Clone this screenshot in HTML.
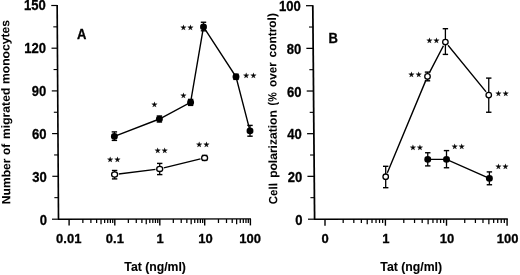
<!DOCTYPE html>
<html><head><meta charset="utf-8"><title>Figure</title>
<style>
html,body{margin:0;padding:0;background:#fff;}
body{width:520px;height:275px;overflow:hidden;}
svg{display:block;}
svg text{fill:#000;stroke:#000;stroke-width:0.3px;}
svg text.vl{stroke-width:0.05px;}
svg text.tl{stroke-width:0.12px;}
svg text.st{stroke-width:0.25px;}
svg line, svg polyline{stroke:#000;}
</style></head><body>
<svg width="520" height="275" viewBox="0 0 520 275" font-family="Liberation Sans, sans-serif" font-weight="bold">
<defs><filter id="soft" x="-2%" y="-2%" width="104%" height="104%"><feGaussianBlur stdDeviation="0.3"/></filter></defs>
<rect x="0" y="0" width="520" height="275" fill="#fff"/>
<g filter="url(#soft)">
<line x1="57.15" y1="5.00" x2="58.50" y2="219.20" stroke-width="1.65"/>
<line x1="52.00" y1="219.20" x2="58.50" y2="219.20" stroke-width="1.2"/>
<line x1="58.00" y1="219.15" x2="251.00" y2="218.85" stroke-width="1.45"/>
<text class="" transform="translate(47.1,224.70000000000002) scale(0.925,1)" text-anchor="end" font-size="14.1">0</text>
<line x1="54.37" y1="197.65" x2="58.37" y2="197.65" stroke-width="1.1"/>
<line x1="52.33" y1="176.30" x2="58.23" y2="176.30" stroke-width="1.2"/>
<text class="" transform="translate(46.8306308411215,181.84) scale(0.925,1)" text-anchor="end" font-size="14.1">30</text>
<line x1="54.10" y1="154.95" x2="58.10" y2="154.95" stroke-width="1.1"/>
<line x1="52.06" y1="133.60" x2="57.96" y2="133.60" stroke-width="1.2"/>
<text class="" transform="translate(46.56126168224299,138.98) scale(0.925,1)" text-anchor="end" font-size="14.1">60</text>
<line x1="53.83" y1="112.25" x2="57.83" y2="112.25" stroke-width="1.1"/>
<line x1="51.79" y1="90.90" x2="57.69" y2="90.90" stroke-width="1.2"/>
<text class="" transform="translate(46.29189252336449,96.12) scale(0.925,1)" text-anchor="end" font-size="14.1">90</text>
<line x1="53.56" y1="69.55" x2="57.56" y2="69.55" stroke-width="1.1"/>
<line x1="51.52" y1="48.20" x2="57.42" y2="48.20" stroke-width="1.2"/>
<text class="" transform="translate(46.022523364485984,53.259999999999984) scale(0.925,1)" text-anchor="end" font-size="14.1">120</text>
<line x1="53.29" y1="26.85" x2="57.29" y2="26.85" stroke-width="1.1"/>
<line x1="51.25" y1="5.50" x2="57.15" y2="5.50" stroke-width="1.2"/>
<text class="" transform="translate(45.75315420560748,10.4) scale(0.925,1)" text-anchor="end" font-size="14.1">150</text>
<line x1="69.10" y1="219.00" x2="69.10" y2="225.40" stroke-width="1.4"/>
<line x1="82.86" y1="219.00" x2="82.86" y2="223.00" stroke-width="1.25"/>
<line x1="90.90" y1="219.00" x2="90.90" y2="223.00" stroke-width="1.25"/>
<line x1="96.61" y1="219.00" x2="96.61" y2="223.00" stroke-width="1.25"/>
<line x1="101.04" y1="219.00" x2="101.04" y2="224.20" stroke-width="1.25"/>
<line x1="104.66" y1="219.00" x2="104.66" y2="223.00" stroke-width="1.25"/>
<line x1="107.72" y1="219.00" x2="107.72" y2="223.00" stroke-width="1.25"/>
<line x1="110.37" y1="219.00" x2="110.37" y2="223.00" stroke-width="1.25"/>
<line x1="112.71" y1="219.00" x2="112.71" y2="223.00" stroke-width="1.25"/>
<line x1="114.80" y1="219.00" x2="114.80" y2="225.40" stroke-width="1.4"/>
<line x1="128.35" y1="219.00" x2="128.35" y2="223.00" stroke-width="1.25"/>
<line x1="136.27" y1="219.00" x2="136.27" y2="223.00" stroke-width="1.25"/>
<line x1="141.89" y1="219.00" x2="141.89" y2="223.00" stroke-width="1.25"/>
<line x1="146.25" y1="219.00" x2="146.25" y2="224.20" stroke-width="1.25"/>
<line x1="149.82" y1="219.00" x2="149.82" y2="223.00" stroke-width="1.25"/>
<line x1="152.83" y1="219.00" x2="152.83" y2="223.00" stroke-width="1.25"/>
<line x1="155.44" y1="219.00" x2="155.44" y2="223.00" stroke-width="1.25"/>
<line x1="157.74" y1="219.00" x2="157.74" y2="223.00" stroke-width="1.25"/>
<line x1="159.80" y1="219.00" x2="159.80" y2="225.40" stroke-width="1.4"/>
<line x1="173.32" y1="219.00" x2="173.32" y2="223.00" stroke-width="1.25"/>
<line x1="181.22" y1="219.00" x2="181.22" y2="223.00" stroke-width="1.25"/>
<line x1="186.83" y1="219.00" x2="186.83" y2="223.00" stroke-width="1.25"/>
<line x1="191.18" y1="219.00" x2="191.18" y2="224.20" stroke-width="1.25"/>
<line x1="194.74" y1="219.00" x2="194.74" y2="223.00" stroke-width="1.25"/>
<line x1="197.74" y1="219.00" x2="197.74" y2="223.00" stroke-width="1.25"/>
<line x1="200.35" y1="219.00" x2="200.35" y2="223.00" stroke-width="1.25"/>
<line x1="202.65" y1="219.00" x2="202.65" y2="223.00" stroke-width="1.25"/>
<line x1="204.70" y1="219.00" x2="204.70" y2="225.40" stroke-width="1.4"/>
<line x1="218.46" y1="219.00" x2="218.46" y2="223.00" stroke-width="1.25"/>
<line x1="226.50" y1="219.00" x2="226.50" y2="223.00" stroke-width="1.25"/>
<line x1="232.21" y1="219.00" x2="232.21" y2="223.00" stroke-width="1.25"/>
<line x1="236.64" y1="219.00" x2="236.64" y2="224.20" stroke-width="1.25"/>
<line x1="240.26" y1="219.00" x2="240.26" y2="223.00" stroke-width="1.25"/>
<line x1="243.32" y1="219.00" x2="243.32" y2="223.00" stroke-width="1.25"/>
<line x1="245.97" y1="219.00" x2="245.97" y2="223.00" stroke-width="1.25"/>
<line x1="248.31" y1="219.00" x2="248.31" y2="223.00" stroke-width="1.25"/>
<line x1="250.40" y1="219.00" x2="250.40" y2="225.40" stroke-width="1.4"/>
<text class="" transform="translate(68.75,242.5) scale(0.95,1)" text-anchor="middle" font-size="13.7">0.01</text>
<text class="" transform="translate(114.9,242.5) scale(0.95,1)" text-anchor="middle" font-size="13.7">0.1</text>
<text class="" transform="translate(160.0,242.5) scale(0.95,1)" text-anchor="middle" font-size="13.7">1</text>
<text class="" transform="translate(205.6,242.5) scale(0.95,1)" text-anchor="middle" font-size="13.7">10</text>
<text class="" transform="translate(250.1,242.5) scale(0.95,1)" text-anchor="middle" font-size="13.7">100</text>
<text class="tl" transform="translate(155.1,270.7) scale(1.02,1)" text-anchor="middle" font-size="12.0">Tat (ng/ml)</text>
<text class="vl" transform="translate(10.35,204.24) rotate(-90.3)" text-anchor="start" font-size="11.9" textLength="45.76" lengthAdjust="spacingAndGlyphs">Number</text>
<text class="vl" transform="translate(10.03,154.98) rotate(-90.3)" text-anchor="start" font-size="11.9" textLength="11.18" lengthAdjust="spacingAndGlyphs">of</text>
<text class="vl" transform="translate(9.93,139.00) rotate(-90.3)" text-anchor="start" font-size="11.9" textLength="51.31" lengthAdjust="spacingAndGlyphs">migrated</text>
<text class="vl" transform="translate(9.57,84.09) rotate(-90.3)" text-anchor="start" font-size="11.9" textLength="64.22" lengthAdjust="spacingAndGlyphs">monocytes</text>
<text class="" transform="translate(81.7,39.2) scale(0.93,1)" text-anchor="middle" font-size="14">A</text>
<polyline fill="none" stroke-width="1.4" points="114.4,136.4 159.4,119.0 190.6,102.4 203.5,26.9 236.0,76.8 250.0,130.9"/>
<line x1="114.40" y1="131.90" x2="114.40" y2="140.40" stroke-width="1.3"/>
<line x1="111.70" y1="131.90" x2="117.10" y2="131.90" stroke-width="1.4"/>
<line x1="111.70" y1="140.40" x2="117.10" y2="140.40" stroke-width="1.4"/>
<ellipse cx="114.4" cy="136.4" rx="3.45" ry="3.3" fill="#000" stroke="none"/>
<line x1="159.40" y1="116.00" x2="159.40" y2="122.00" stroke-width="1.3"/>
<line x1="156.70" y1="116.00" x2="162.10" y2="116.00" stroke-width="1.4"/>
<line x1="156.70" y1="122.00" x2="162.10" y2="122.00" stroke-width="1.4"/>
<ellipse cx="159.4" cy="119.0" rx="3.45" ry="3.3" fill="#000" stroke="none"/>
<line x1="190.60" y1="99.40" x2="190.60" y2="105.40" stroke-width="1.3"/>
<line x1="187.90" y1="99.40" x2="193.30" y2="99.40" stroke-width="1.4"/>
<line x1="187.90" y1="105.40" x2="193.30" y2="105.40" stroke-width="1.4"/>
<ellipse cx="190.6" cy="102.4" rx="3.45" ry="3.3" fill="#000" stroke="none"/>
<line x1="203.50" y1="22.25" x2="203.50" y2="30.80" stroke-width="1.3"/>
<line x1="200.80" y1="22.25" x2="206.20" y2="22.25" stroke-width="1.4"/>
<line x1="200.80" y1="30.80" x2="206.20" y2="30.80" stroke-width="1.4"/>
<ellipse cx="203.5" cy="26.9" rx="3.45" ry="3.3" fill="#000" stroke="none"/>
<line x1="236.00" y1="74.20" x2="236.00" y2="79.40" stroke-width="1.3"/>
<line x1="233.30" y1="74.20" x2="238.70" y2="74.20" stroke-width="1.4"/>
<line x1="233.30" y1="79.40" x2="238.70" y2="79.40" stroke-width="1.4"/>
<ellipse cx="236.0" cy="76.8" rx="3.45" ry="3.3" fill="#000" stroke="none"/>
<line x1="250.00" y1="125.40" x2="250.00" y2="136.20" stroke-width="1.3"/>
<line x1="247.30" y1="125.40" x2="252.70" y2="125.40" stroke-width="1.4"/>
<line x1="247.30" y1="136.20" x2="252.70" y2="136.20" stroke-width="1.4"/>
<ellipse cx="250.0" cy="130.9" rx="3.45" ry="3.3" fill="#000" stroke="none"/>
<polyline fill="none" stroke-width="1.4" points="114.6,174.5 159.7,168.9 204.6,157.9"/>
<circle cx="114.6" cy="174.5" r="4.3" fill="#fff" stroke="none"/>
<line x1="114.60" y1="170.50" x2="114.60" y2="178.90" stroke-width="1.3"/>
<line x1="111.90" y1="170.50" x2="117.30" y2="170.50" stroke-width="1.4"/>
<line x1="111.90" y1="178.90" x2="117.30" y2="178.90" stroke-width="1.4"/>
<ellipse cx="114.6" cy="174.5" rx="3.0" ry="2.6" fill="#fff" stroke="#000" stroke-width="1.3"/>
<circle cx="159.7" cy="168.9" r="4.3" fill="#fff" stroke="none"/>
<line x1="159.70" y1="163.40" x2="159.70" y2="174.60" stroke-width="1.3"/>
<line x1="157.00" y1="163.40" x2="162.40" y2="163.40" stroke-width="1.4"/>
<line x1="157.00" y1="174.60" x2="162.40" y2="174.60" stroke-width="1.4"/>
<ellipse cx="159.7" cy="168.9" rx="3.0" ry="2.6" fill="#fff" stroke="#000" stroke-width="1.3"/>
<circle cx="204.6" cy="157.9" r="4.3" fill="#fff" stroke="none"/>
<line x1="204.60" y1="155.40" x2="204.60" y2="160.40" stroke-width="1.3"/>
<line x1="201.90" y1="155.40" x2="207.30" y2="155.40" stroke-width="1.4"/>
<line x1="201.90" y1="160.40" x2="207.30" y2="160.40" stroke-width="1.4"/>
<ellipse cx="204.6" cy="157.9" rx="3.0" ry="2.6" fill="#fff" stroke="#000" stroke-width="1.3"/>
<text class="st" font-family="DejaVu Sans, sans-serif" font-weight="normal" font-size="7.1" x="151.24" y="106.96">★</text>
<text class="st" font-family="DejaVu Sans, sans-serif" font-weight="normal" font-size="7.1" x="180.24" y="97.81">★</text>
<text class="st" font-family="DejaVu Sans, sans-serif" font-weight="normal" font-size="7.1" x="180.24 187.34" y="30.31">★★</text>
<text class="st" font-family="DejaVu Sans, sans-serif" font-weight="normal" font-size="7.1" x="243.09 250.19" y="77.56">★★</text>
<text class="st" font-family="DejaVu Sans, sans-serif" font-weight="normal" font-size="7.1" x="107.09 114.19" y="162.31">★★</text>
<text class="st" font-family="DejaVu Sans, sans-serif" font-weight="normal" font-size="7.1" x="154.44 161.54" y="152.86">★★</text>
<text class="st" font-family="DejaVu Sans, sans-serif" font-weight="normal" font-size="7.1" x="196.04 203.14" y="147.46">★★</text>
<line x1="312.80" y1="5.20" x2="314.60" y2="219.20" stroke-width="1.75"/>
<line x1="308.00" y1="219.20" x2="314.00" y2="219.20" stroke-width="1.2"/>
<line x1="314.00" y1="219.20" x2="507.80" y2="218.90" stroke-width="1.5"/>
<text class="" transform="translate(302.6,224.7) scale(0.925,1)" text-anchor="end" font-size="14.1">0</text>
<line x1="310.42" y1="197.67" x2="314.42" y2="197.67" stroke-width="1.1"/>
<line x1="307.44" y1="176.34" x2="314.24" y2="176.34" stroke-width="1.25"/>
<text class="" transform="translate(302.2411775700935,182.04) scale(0.925,1)" text-anchor="end" font-size="14.1">20</text>
<line x1="310.06" y1="155.01" x2="314.06" y2="155.01" stroke-width="1.1"/>
<line x1="307.08" y1="133.68" x2="313.88" y2="133.68" stroke-width="1.25"/>
<text class="" transform="translate(301.8823551401869,139.38) scale(0.925,1)" text-anchor="end" font-size="14.1">40</text>
<line x1="309.70" y1="112.35" x2="313.70" y2="112.35" stroke-width="1.1"/>
<line x1="306.72" y1="91.02" x2="313.52" y2="91.02" stroke-width="1.25"/>
<text class="" transform="translate(301.5235327102804,96.72) scale(0.925,1)" text-anchor="end" font-size="14.1">60</text>
<line x1="309.34" y1="69.69" x2="313.34" y2="69.69" stroke-width="1.1"/>
<line x1="306.36" y1="48.36" x2="313.16" y2="48.36" stroke-width="1.25"/>
<text class="" transform="translate(301.16471028037387,54.06000000000002) scale(0.925,1)" text-anchor="end" font-size="14.1">80</text>
<line x1="308.99" y1="27.03" x2="312.99" y2="27.03" stroke-width="1.1"/>
<line x1="306.01" y1="5.70" x2="312.81" y2="5.70" stroke-width="1.25"/>
<text class="" transform="translate(300.8058878504673,10.49999999999999) scale(0.925,1)" text-anchor="end" font-size="14.1">100</text>
<line x1="325.00" y1="219.00" x2="325.00" y2="225.70" stroke-width="1.4"/>
<line x1="343.18" y1="219.00" x2="343.18" y2="223.00" stroke-width="1.25"/>
<line x1="353.82" y1="219.00" x2="353.82" y2="223.00" stroke-width="1.25"/>
<line x1="361.36" y1="219.00" x2="361.36" y2="223.00" stroke-width="1.25"/>
<line x1="367.22" y1="219.00" x2="367.22" y2="224.20" stroke-width="1.25"/>
<line x1="372.00" y1="219.00" x2="372.00" y2="223.00" stroke-width="1.25"/>
<line x1="376.04" y1="219.00" x2="376.04" y2="223.00" stroke-width="1.25"/>
<line x1="379.55" y1="219.00" x2="379.55" y2="223.00" stroke-width="1.25"/>
<line x1="382.64" y1="219.00" x2="382.64" y2="223.00" stroke-width="1.25"/>
<line x1="385.40" y1="219.00" x2="385.40" y2="225.70" stroke-width="1.4"/>
<line x1="403.79" y1="219.00" x2="403.79" y2="223.00" stroke-width="1.25"/>
<line x1="414.55" y1="219.00" x2="414.55" y2="223.00" stroke-width="1.25"/>
<line x1="422.19" y1="219.00" x2="422.19" y2="223.00" stroke-width="1.25"/>
<line x1="428.11" y1="219.00" x2="428.11" y2="224.20" stroke-width="1.25"/>
<line x1="432.95" y1="219.00" x2="432.95" y2="223.00" stroke-width="1.25"/>
<line x1="437.04" y1="219.00" x2="437.04" y2="223.00" stroke-width="1.25"/>
<line x1="440.58" y1="219.00" x2="440.58" y2="223.00" stroke-width="1.25"/>
<line x1="443.70" y1="219.00" x2="443.70" y2="223.00" stroke-width="1.25"/>
<line x1="446.50" y1="219.00" x2="446.50" y2="225.70" stroke-width="1.4"/>
<line x1="464.74" y1="219.00" x2="464.74" y2="223.00" stroke-width="1.25"/>
<line x1="475.41" y1="219.00" x2="475.41" y2="223.00" stroke-width="1.25"/>
<line x1="482.98" y1="219.00" x2="482.98" y2="223.00" stroke-width="1.25"/>
<line x1="488.86" y1="219.00" x2="488.86" y2="224.20" stroke-width="1.25"/>
<line x1="493.66" y1="219.00" x2="493.66" y2="223.00" stroke-width="1.25"/>
<line x1="497.71" y1="219.00" x2="497.71" y2="223.00" stroke-width="1.25"/>
<line x1="501.23" y1="219.00" x2="501.23" y2="223.00" stroke-width="1.25"/>
<line x1="504.33" y1="219.00" x2="504.33" y2="223.00" stroke-width="1.25"/>
<line x1="507.10" y1="219.00" x2="507.10" y2="225.70" stroke-width="1.4"/>
<text class="" transform="translate(325.1,242.9) scale(0.95,1)" text-anchor="middle" font-size="13.7">0</text>
<text class="" transform="translate(385.8,242.9) scale(0.95,1)" text-anchor="middle" font-size="13.7">1</text>
<text class="" transform="translate(446.9,242.9) scale(0.95,1)" text-anchor="middle" font-size="13.7">10</text>
<text class="" transform="translate(507.7,242.9) scale(0.95,1)" text-anchor="middle" font-size="13.7">100</text>
<text class="tl" transform="translate(411.2,270.7) scale(1.024,1)" text-anchor="middle" font-size="12.0">Tat (ng/ml)</text>
<text class="vl" transform="translate(277.25,204.22) rotate(-90.39)" text-anchor="start" font-size="11.9" textLength="21.12" lengthAdjust="spacingAndGlyphs">Cell</text>
<text class="vl" transform="translate(277.08,177.87) rotate(-90.39)" text-anchor="start" font-size="11.9" textLength="67.71" lengthAdjust="spacingAndGlyphs">polarization</text>
<text class="vl" transform="translate(276.61,105.40) rotate(-90.39)" text-anchor="start" font-size="11.9" textLength="13.20" lengthAdjust="spacingAndGlyphs">(%</text>
<text class="vl" transform="translate(276.49,87.00) rotate(-90.39)" text-anchor="start" font-size="11.9" textLength="24.69" lengthAdjust="spacingAndGlyphs">over</text>
<text class="vl" transform="translate(276.30,57.44) rotate(-90.39)" text-anchor="start" font-size="11.9" textLength="44.32" lengthAdjust="spacingAndGlyphs">control)</text>
<text class="" transform="translate(333.2,42.8) scale(0.93,1)" text-anchor="middle" font-size="14">B</text>
<polyline fill="none" stroke-width="1.4" points="385.7,176.7 427.5,76.4 445.4,42.0 488.75,95.1"/>
<circle cx="385.7" cy="176.7" r="4.3" fill="#fff" stroke="none"/>
<line x1="385.70" y1="166.30" x2="385.70" y2="187.70" stroke-width="1.3"/>
<line x1="383.00" y1="166.30" x2="388.40" y2="166.30" stroke-width="1.4"/>
<line x1="383.00" y1="187.70" x2="388.40" y2="187.70" stroke-width="1.4"/>
<ellipse cx="385.7" cy="176.7" rx="2.75" ry="2.7" fill="#fff" stroke="#000" stroke-width="1.3"/>
<circle cx="427.5" cy="76.4" r="4.3" fill="#fff" stroke="none"/>
<line x1="427.50" y1="72.10" x2="427.50" y2="80.80" stroke-width="1.3"/>
<line x1="424.80" y1="72.10" x2="430.20" y2="72.10" stroke-width="1.4"/>
<line x1="424.80" y1="80.80" x2="430.20" y2="80.80" stroke-width="1.4"/>
<ellipse cx="427.5" cy="76.4" rx="2.75" ry="2.7" fill="#fff" stroke="#000" stroke-width="1.3"/>
<circle cx="445.4" cy="42.0" r="4.3" fill="#fff" stroke="none"/>
<line x1="445.40" y1="28.70" x2="445.40" y2="54.40" stroke-width="1.3"/>
<line x1="442.70" y1="28.70" x2="448.10" y2="28.70" stroke-width="1.4"/>
<line x1="442.70" y1="54.40" x2="448.10" y2="54.40" stroke-width="1.4"/>
<ellipse cx="445.4" cy="42.0" rx="2.75" ry="2.7" fill="#fff" stroke="#000" stroke-width="1.3"/>
<circle cx="488.75" cy="95.1" r="4.3" fill="#fff" stroke="none"/>
<line x1="488.75" y1="78.10" x2="488.75" y2="112.25" stroke-width="1.3"/>
<line x1="486.05" y1="78.10" x2="491.45" y2="78.10" stroke-width="1.4"/>
<line x1="486.05" y1="112.25" x2="491.45" y2="112.25" stroke-width="1.4"/>
<ellipse cx="488.75" cy="95.1" rx="2.75" ry="2.7" fill="#fff" stroke="#000" stroke-width="1.3"/>
<polyline fill="none" stroke-width="1.4" points="427.75,159.4 446.5,159.4 489.4,178.4"/>
<line x1="427.75" y1="152.75" x2="427.75" y2="165.90" stroke-width="1.3"/>
<line x1="425.05" y1="152.75" x2="430.45" y2="152.75" stroke-width="1.4"/>
<line x1="425.05" y1="165.90" x2="430.45" y2="165.90" stroke-width="1.4"/>
<ellipse cx="427.75" cy="159.4" rx="3.45" ry="3.3" fill="#000" stroke="none"/>
<line x1="446.50" y1="150.60" x2="446.50" y2="167.75" stroke-width="1.3"/>
<line x1="443.80" y1="150.60" x2="449.20" y2="150.60" stroke-width="1.4"/>
<line x1="443.80" y1="167.75" x2="449.20" y2="167.75" stroke-width="1.4"/>
<ellipse cx="446.5" cy="159.4" rx="3.45" ry="3.3" fill="#000" stroke="none"/>
<line x1="489.40" y1="171.90" x2="489.40" y2="184.75" stroke-width="1.3"/>
<line x1="486.70" y1="171.90" x2="492.10" y2="171.90" stroke-width="1.4"/>
<line x1="486.70" y1="184.75" x2="492.10" y2="184.75" stroke-width="1.4"/>
<ellipse cx="489.4" cy="178.4" rx="3.45" ry="3.3" fill="#000" stroke="none"/>
<text class="st" font-family="DejaVu Sans, sans-serif" font-weight="normal" font-size="7.1" x="426.14 433.24" y="43.46">★★</text>
<text class="st" font-family="DejaVu Sans, sans-serif" font-weight="normal" font-size="7.1" x="408.34 415.44" y="77.26">★★</text>
<text class="st" font-family="DejaVu Sans, sans-serif" font-weight="normal" font-size="7.1" x="495.34 502.44" y="96.26">★★</text>
<text class="st" font-family="DejaVu Sans, sans-serif" font-weight="normal" font-size="7.1" x="409.74 416.84" y="149.81">★★</text>
<text class="st" font-family="DejaVu Sans, sans-serif" font-weight="normal" font-size="7.1" x="451.44 458.54" y="148.56">★★</text>
<text class="st" font-family="DejaVu Sans, sans-serif" font-weight="normal" font-size="7.1" x="495.24 502.34" y="169.16">★★</text>
</g>
</svg>
</body></html>
